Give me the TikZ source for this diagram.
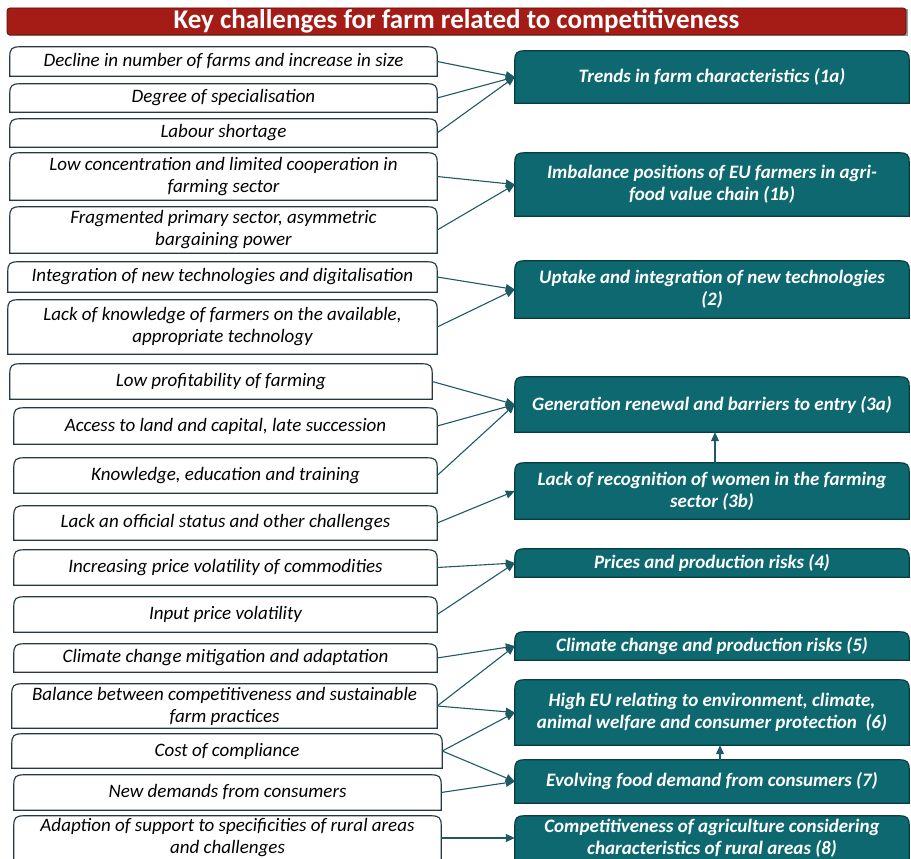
\documentclass[tikz,border=0pt]{standalone}
\usepackage{fontspec}
\setmainfont{Carlito}
\usetikzlibrary{arrows.meta}
\definecolor{tealfill}{HTML}{0E6870}
\definecolor{tealedge}{HTML}{0A3B42}
\definecolor{titlered}{HTML}{A51C16}
\definecolor{titleedge}{HTML}{5A0E0B}
\definecolor{leftedge}{HTML}{233A44}
\definecolor{linkcol}{HTML}{1D5A64}
\pgfdeclarelayer{back}
\pgfsetlayers{back,main}
% outline of a box with rounded top corners and square bottom corners
\newcommand{\capoutline}[1]{%
  ([yshift=-10pt]#1.north west) .. controls ([yshift=-2pt]#1.north west) and ([xshift=2pt]#1.north west) .. ([xshift=10pt]#1.north west)
  -- ([xshift=-10pt]#1.north east) .. controls ([xshift=-2pt]#1.north east) and ([yshift=-2pt]#1.north east) .. ([yshift=-10pt]#1.north east)
  -- (#1.south east) -- (#1.south west) -- cycle}
% shadow, fill and border of such a box
\newcommand{\capbox}[3]{%
  \begin{pgfonlayer}{back}
    \fill[black, opacity=0.45, xshift=1.4pt, yshift=-1.4pt] \capoutline{#1};
    \path[fill=#2, draw=#3, line width=1.2pt] \capoutline{#1};
  \end{pgfonlayer}}
\begin{document}
\begin{tikzpicture}[x=1pt,y=-1pt,
  titlebar/.style={rectangle, rounded corners=3pt, fill=titlered, draw=titleedge, line width=0.8pt,
    text=white, font=\fontsize{27}{30}\selectfont\bfseries, inner sep=0pt},
  lbox/.style={rectangle, font=\fontsize{19}{22}\selectfont\itshape, align=center, inner sep=0pt},
  rbox/.style={rectangle, text=white, font=\fontsize{19}{22}\selectfont\bfseries\itshape,
    align=center, inner sep=0pt},
  link/.style={draw=linkcol, line width=1.1pt, -{Triangle[length=9pt,width=8pt]}}
]
\useasboundingbox (0,0) rectangle (911,859);
\clip (0,0) rectangle (911,859);

% title bar
\fill[black, opacity=0.4] (8.5,9.5) rectangle (907.5,36.5);
\node[titlebar, minimum width=899pt, minimum height=27pt] (title) at (456.5,21.5)
  {Key challenges for farm related to competitiveness};

% challenges (left column)
\node[lbox, minimum width=427pt, minimum height=29pt] (l1) at (223.5,61.5) {Decline in number of farms and increase in size};
\node[lbox, minimum width=427pt, minimum height=28pt] (l2) at (223.5,98) {Degree of specialisation};
\node[lbox, minimum width=427pt, minimum height=28pt] (l3) at (223.5,133) {Labour shortage};
\node[lbox, minimum width=427pt, minimum height=47pt] (l4) at (223.5,176.5) {Low concentration and limited cooperation in\\ farming sector};
\node[lbox, minimum width=427pt, minimum height=46pt] (l5) at (223.5,230) {Fragmented primary sector, asymmetric\\ bargaining power};
\node[lbox, minimum width=429pt, minimum height=30pt] (l6) at (222.5,277) {Integration of new technologies and digitalisation};
\node[lbox, minimum width=429pt, minimum height=54pt] (l7) at (222.5,327) {Lack of knowledge of farmers on the available,\\ appropriate technology};
\node[lbox, minimum width=422pt, minimum height=35pt] (l8) at (221,381.5) {Low profitability of farming};
\node[lbox, minimum width=423pt, minimum height=36pt] (l9) at (225.5,426) {Access to land and capital, late succession};
\node[lbox, minimum width=423pt, minimum height=35pt] (l10) at (225.5,475.5) {Knowledge, education and training};
\node[lbox, minimum width=423pt, minimum height=34pt] (l11) at (225.5,523) {Lack an official status and other challenges};
\node[lbox, minimum width=423pt, minimum height=35pt] (l12) at (225.5,567.5) {Increasing price volatility of commodities};
\node[lbox, minimum width=423pt, minimum height=35pt] (l13) at (225.5,614.5) {Input price volatility};
\node[lbox, minimum width=423pt, minimum height=28pt] (l14) at (225.5,658) {Climate change mitigation and adaptation};
\node[lbox, minimum width=425pt, minimum height=44pt] (l15) at (224.5,706) {Balance between competitiveness and sustainable\\ farm practices};
\node[lbox, minimum width=430pt, minimum height=34pt] (l16) at (227,751) {Cost of compliance};
\node[lbox, minimum width=427pt, minimum height=35pt] (l17) at (227.5,792.5) {New demands from consumers};
\node[lbox, minimum width=427pt, minimum height=44pt] (l18) at (227.5,838) {Adaption of support to specificities of rural areas\\ and challenges};

\foreach \n in {l1,l2,l3,l4,l5,l6,l7,l8,l9,l10,l11,l12,l13,l14,l15,l16,l17,l18}
  {\capbox{\n}{white}{leftedge}}

% key challenges (right column)
\node[rbox, minimum width=394pt, minimum height=52pt] (r1a) at (712,77) {Trends in farm characteristics (1a)};
\node[rbox, minimum width=394pt, minimum height=63pt] (r1b) at (712,184.5) {Imbalance positions of EU farmers in agri-\\ food value chain (1b)};
\node[rbox, minimum width=394pt, minimum height=57pt] (r2) at (712,289.5) {Uptake and integration of new technologies\\ (2)};
\node[rbox, minimum width=394pt, minimum height=55pt] (r3a) at (712,404.5) {Generation renewal and barriers to entry (3a)};
\node[rbox, minimum width=394pt, minimum height=56pt] (r3b) at (712,491) {Lack of recognition of women in the farming\\ sector (3b)};
\node[rbox, minimum width=394pt, minimum height=28pt] (r4) at (712,563) {Prices and production risks (4)};
\node[rbox, minimum width=394pt, minimum height=28pt] (r5) at (712,646) {Climate change and production risks (5)};
\node[rbox, minimum width=394pt, minimum height=65pt] (r6) at (712,712.5) {High EU relating to environment, climate,\\ animal welfare and consumer protection\ \ (6)};
\node[rbox, minimum width=394pt, minimum height=43pt] (r7) at (712,781.5) {Evolving food demand from consumers (7)};
\node[rbox, minimum width=394pt, minimum height=44pt] (r8) at (712,838) {Competitiveness of agriculture considering\\ characteristics of rural areas (8)};

\foreach \n in {r1a,r1b,r2,r3a,r3b,r4,r5,r6,r7,r8}
  {\capbox{\n}{tealfill}{tealedge}}

% connectors
\draw[link] (l1.east) -- (r1a.west);
\draw[link] (l2.east) -- (r1a.west);
\draw[link] (l3.east) -- (r1a.west);
\draw[link] (l4.east) -- (r1b.west);
\draw[link] (l5.east) -- (r1b.west);
\draw[link] (l6.east) -- (r2.west);
\draw[link] (l7.east) -- (r2.west);
\draw[link] (l8.east) -- (r3a.west);
\draw[link] (l9.east) -- (r3a.west);
\draw[link] (l10.east) -- (r3a.west);
\draw[link] (l11.east) -- (r3b.west);
\draw[link] ([xshift=3pt]r3b.north) -- ([xshift=3pt]r3a.south);
\draw[link] (l12.east) -- (r4.west);
\draw[link] (l13.east) -- (r4.west);
\draw[link] (l14.east) -- (r5.west);
\draw[link] (l15.east) -- (r5.west);
\draw[link] (l15.east) -- (r6.west);
\draw[link] (l16.east) -- (r6.west);
\draw[link] (l16.east) -- (r7.west);
\draw[link] (l17.east) -- (r7.west);
\draw[link] ([xshift=8pt]r7.north) -- ([xshift=8pt]r6.south);
\draw[link] (l18.east) -- (r8.west);
\end{tikzpicture}
\end{document}
